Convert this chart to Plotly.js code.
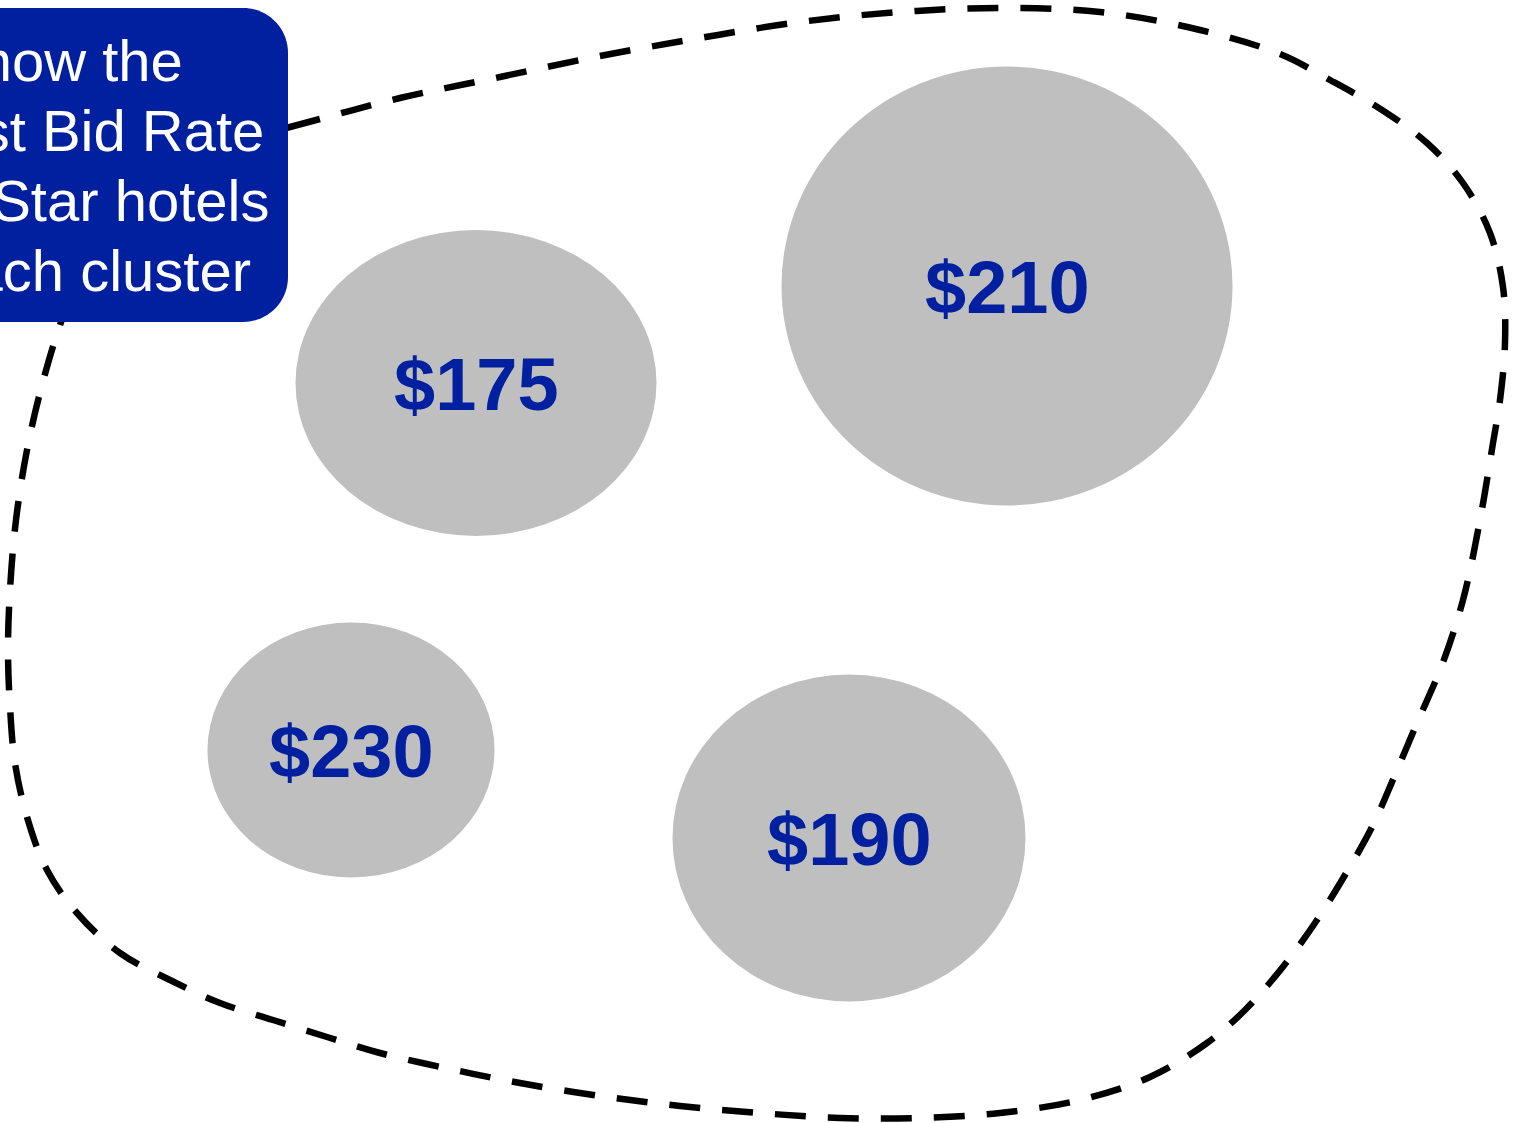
<!DOCTYPE html>
<html>
<head>
<meta charset="utf-8">
<script src="https://cdn.plot.ly/plotly-3.0.1.min.js"></script>
<style>
  html, body { margin: 0; padding: 0; background: #ffffff; overflow: hidden; }
  #chart { width: 1513px; height: 1123px; }
</style>
</head>
<body>
<div id="chart"></div>
<script>
// ---- Data ----
const rateLabels = ["$175", "$210", "$230", "$190"];
const clusterX   = [476, 1007, 351, 849];
const clusterY   = [383, 286, 750, 838];
const bubbleW    = [361, 451, 287, 353];
const bubbleH    = [306, 439, 255, 327];

const noteLines  = ["Bubbles show the", "Lowest Bid Rate", "for 4 Star hotels", "in each cluster"];
const noteRightX = [185, 266, 271, 253];
const noteMidY   = [60, 130, 200, 270];

// outline of the market boundary
const boundaryX = [200, 290, 400, 500, 600, 700, 800, 900, 1000, 1100, 1200, 1280, 1330, 1382, 1427, 1463, 1490, 1503, 1505, 1500, 1493, 1480, 1463, 1442, 1417, 1395, 1372, 1345, 1315, 1282, 1245, 1207, 1150, 1080, 1000, 920, 840, 760, 680, 600, 520, 450, 380, 327, 273, 220, 170, 120, 77, 47, 27, 15, 10, 8, 10, 16, 27, 42, 60, 85, 130, 200];
const boundaryY = [150, 127, 98, 77, 56, 38, 22, 12, 8, 12, 30, 54, 80, 110, 143, 183, 233, 287, 343, 400, 443, 520, 600, 665, 723, 775, 827, 875, 923, 968, 1010, 1043, 1077, 1100, 1113, 1118, 1118, 1113, 1106, 1096, 1083, 1069, 1053, 1037, 1020, 1003, 980, 953, 913, 870, 817, 763, 707, 650, 590, 520, 450, 385, 325, 260, 190, 150];

const blue = "#0020A0";
const grey = "#BFBFBF";

// ---- Shapes ----
const shapes = [];
for (let i = 0; i < rateLabels.length; i++) {
  shapes.push({
    type: "circle", xref: "x", yref: "y", layer: "below",
    x0: clusterX[i] - bubbleW[i] / 2, x1: clusterX[i] + bubbleW[i] / 2,
    y0: clusterY[i] - bubbleH[i] / 2, y1: clusterY[i] + bubbleH[i] / 2,
    fillcolor: grey, line: { width: 0 }
  });
}
// note box (rounded, partly off the left edge)
shapes.push({
  type: "path", xref: "x", yref: "y", layer: "above",
  path: "M -400 8 L 243 8 C 267.9 8 288 28.1 288 53 L 288 277 C 288 301.9 267.9 322 243 322 L -400 322 Z",
  fillcolor: blue, line: { width: 0 }
});

// ---- Annotations ----
const annotations = [];
for (let i = 0; i < rateLabels.length; i++) {
  annotations.push({
    x: clusterX[i], y: clusterY[i], xref: "x", yref: "y",
    text: "<b>" + rateLabels[i] + "</b>", showarrow: false,
    xanchor: "center", yanchor: "middle", yshift: -1,
    font: { family: "Liberation Sans, Arial, sans-serif", size: 74, color: blue }
  });
}
for (let i = 0; i < noteLines.length; i++) {
  annotations.push({
    x: noteRightX[i], y: noteMidY[i], xref: "x", yref: "y",
    text: noteLines[i], showarrow: false,
    xanchor: "right", yanchor: "middle",
    font: { family: "Liberation Sans, Arial, sans-serif", size: 58, color: "#ffffff" }
  });
}

const traces = [{
  type: "scatter", mode: "lines",
  x: boundaryX, y: boundaryY,
  line: { color: "#000000", width: 6.5, dash: "31px,22px", shape: "spline", smoothing: 1 },
  hoverinfo: "skip", showlegend: false
}];

const layout = {
  width: 1513, height: 1123,
  margin: { l: 0, r: 0, t: 0, b: 0, pad: 0 },
  paper_bgcolor: "#ffffff", plot_bgcolor: "#ffffff",
  xaxis: { range: [0, 1513], visible: false, fixedrange: true },
  yaxis: { range: [1123, 0], visible: false, fixedrange: true },
  showlegend: false,
  shapes: shapes,
  annotations: annotations
};

Plotly.newPlot("chart", traces, layout, { displayModeBar: false, staticPlot: true });
</script>
</body>
</html>
